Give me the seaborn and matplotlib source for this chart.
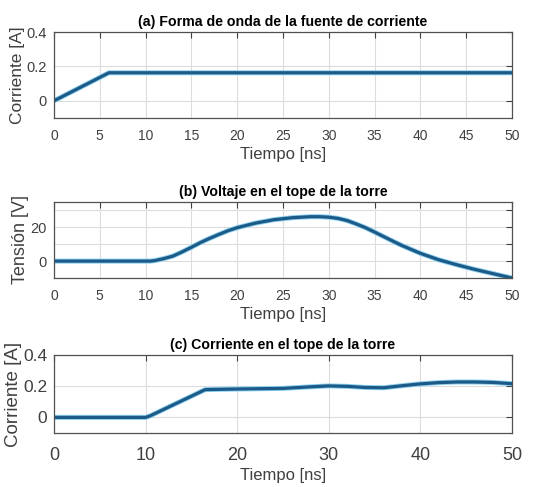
import numpy as np
import pandas as pd
import matplotlib
matplotlib.use("Agg")
import matplotlib.pyplot as plt
import matplotlib.patheffects as pe
from matplotlib import font_manager
import seaborn as sns

# ---- data ----
t_a = [0, 6, 50]
i_a = [0, 0.163, 0.163]

t_b = [0, 10, 10.5, 11, 12, 13, 14, 15, 16, 17, 18, 19, 20, 22, 24, 26, 28, 29,
       30, 31, 32, 33, 34, 35, 36, 37, 38, 39, 40, 42, 44, 46, 48, 50]
v_b = [0, 0, 0, 0.3, 1.5, 3.0, 5.5, 8.2, 11.0, 13.5, 15.8, 18.0, 19.8, 22.5, 24.5,
       25.7, 26.3, 26.3, 26.0, 25.3, 24.0, 22.0, 19.8, 17.2, 14.5, 11.8, 9.2, 6.9,
       4.6, 0.8, -2.2, -5.0, -7.5, -10.0]

t_c = [0, 10, 10.5, 16.5, 20, 25, 28, 30, 32, 34, 36, 38, 40, 42, 44, 46, 48, 50]
i_c = [0, 0, 0.01, 0.178, 0.182, 0.186, 0.196, 0.202, 0.199, 0.192, 0.19, 0.203,
       0.215, 0.223, 0.227, 0.227, 0.224, 0.216]

titles = ["(a) Forma de onda de la fuente de corriente",
          "(b) Voltaje en el tope de la torre",
          "(c) Corriente en el tope de la torre"]
ylabels = ["Corriente [A]", "Tensión [V]", "Corriente [A]"]
xlabel = "Tiempo [ns]"

sns.set_theme(style="white")
names = {f.name for f in font_manager.fontManager.ttflist}
fam = "Liberation Sans Narrow" if "Liberation Sans Narrow" in names else "Liberation Sans"
plt.rcParams["font.family"] = [fam, "DejaVu Sans"]

fig = plt.figure(figsize=(5.48, 4.87), dpi=100)
fig.patch.set_facecolor("white")

pos = [
    [54 / 548, 1 - 118 / 487, 458 / 548, 86 / 487],
    [54 / 548, 1 - 278 / 487, 458 / 548, 76 / 487],
    [54 / 548, 1 - 433 / 487, 458 / 548, 78 / 487],
]

dfs = [pd.DataFrame({"t": t_a, "y": i_a}),
       pd.DataFrame({"t": t_b, "y": v_b}),
       pd.DataFrame({"t": t_c, "y": i_c})]

line_col = "#1c5a87"
halo = "#8ccff0"
gray = "#404040"

ylab_size = [12.5, 13, 13.5]

for k in range(3):
    ax = fig.add_axes(pos[k])
    sns.lineplot(data=dfs[k], x="t", y="y", ax=ax, color=line_col, lw=2.3,
                 path_effects=[pe.Stroke(linewidth=3.6, foreground=halo), pe.Normal()])
    ax.set_xlim(0, 50)
    if k == 1:
        ax.set_ylim(-10, 35)
        ax.set_yticks([-10, 0, 10, 20, 30])
        ax.set_yticklabels(["", "0", "", "20", ""])
    else:
        ax.set_ylim(-0.1, 0.4)
        ax.set_yticks([0, 0.2, 0.4])
        ax.set_yticklabels(["0", "0.2", "0.4"])
    if k == 2:
        ax.set_xticks([0, 10, 20, 30, 40, 50])
        tsize, xpad, lpad = 13, 10, 3
    else:
        ax.set_xticks(list(range(0, 51, 5)))
        tsize, xpad, lpad = 10, 8, 3
    ax.grid(True, color="#dcdcdc", lw=0.8)
    ax.set_axisbelow(True)
    for s in ax.spines.values():
        s.set_color("#505050")
        s.set_linewidth(0.9)
        s.set_visible(True)
    ax.tick_params(direction="in", length=4, width=0.8, color="#404040",
                   top=True, right=True, labelcolor=gray)
    ax.tick_params(axis="x", labelsize=tsize, pad=xpad)
    ax.tick_params(axis="y", labelsize=(12.5 if k == 2 else 10.5), pad=5)
    ax.set_title(titles[k], fontsize=10.2, fontweight="bold", color="black", pad=4)
    ax.set_xlabel(xlabel, fontsize=12, color=gray, labelpad=lpad)
    ax.set_ylabel(ylabels[k], fontsize=ylab_size[k], color=gray, labelpad=1)

fig.savefig("out.png", dpi=100)
